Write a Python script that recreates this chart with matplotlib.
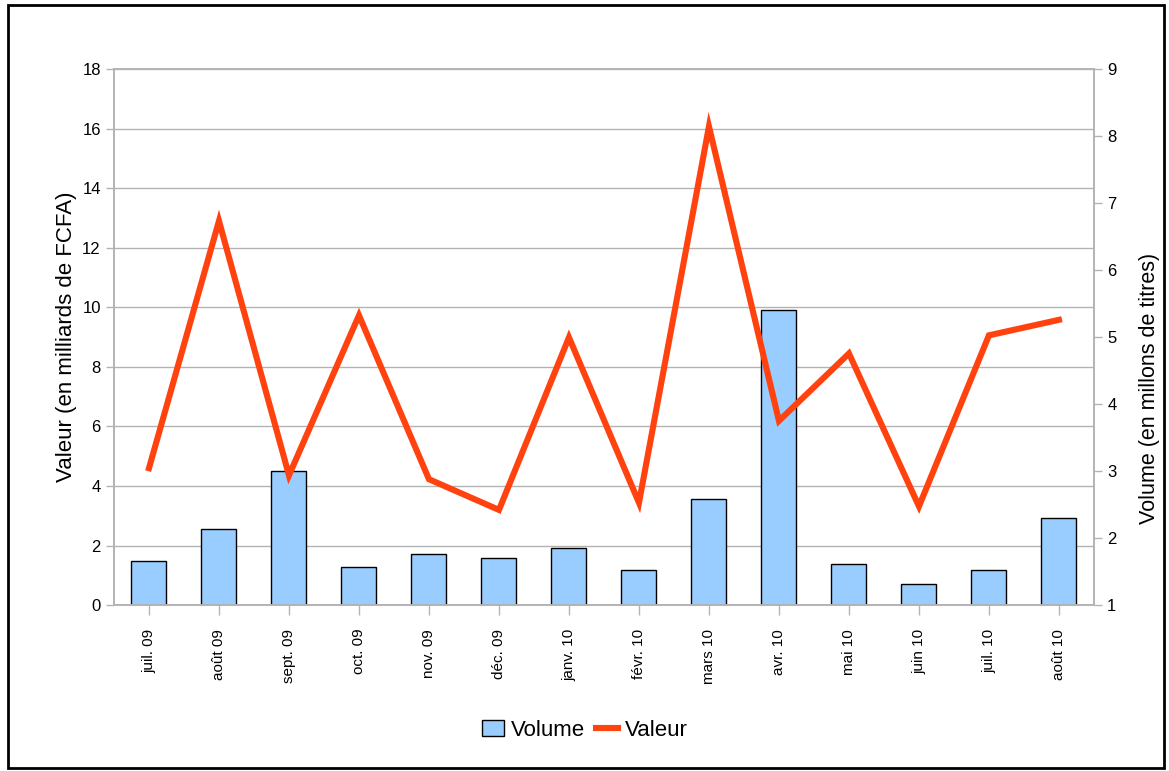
import numpy as np
import matplotlib
matplotlib.use('Agg')
import matplotlib.pyplot as plt
from matplotlib.patches import Rectangle

plt.rcParams['font.family'] = ['Liberation Sans', 'DejaVu Sans']

mois = ['juil. 09', 'août 09', 'sept. 09', 'oct. 09', 'nov. 09', 'déc. 09',
        'janv. 10', 'févr. 10', 'mars 10', 'avr. 10', 'mai 10', 'juin 10',
        'juil. 10', 'août 10']
# valeur en milliards de FCFA (axe gauche)
valeur = [4.60, 12.9, 4.36, 9.73, 4.23, 3.20, 8.99, 3.44, 16.07, 6.19,
          8.45, 3.32, 9.06, 9.58]
# volume en millions de titres (axe droit)
volume = [1.66, 2.14, 3.01, 1.57, 1.76, 1.71, 1.86, 1.52, 2.58, 5.40,
          1.62, 1.32, 1.53, 2.30]

fig = plt.figure(figsize=(11.69, 7.71), dpi=100)
ax = fig.add_axes([0.0975, 0.215, 0.8383, 0.6955])
ax2 = ax.twinx()
ax.set_zorder(2)
ax2.set_zorder(1)
ax.patch.set_visible(False)

x = np.arange(len(mois))
grey = '#b3b3b3'

# barres volume sur l'axe droit
vol = np.array(volume)
ax2.bar(x, vol - 1, bottom=1, width=0.5, color='#99ccff',
        edgecolor='black', linewidth=1.0, label='Volume', zorder=2)
ax2.set_ylim(1, 9)
ax2.set_yticks(range(1, 10))
ax2.set_ylabel('Volume (en millons de titres)', fontsize=15.5)
ax2.yaxis.set_label_coords(1.046, 0.405)

# ligne valeur sur l'axe gauche
ax.plot(x, valeur, color='#ff420e', linewidth=4.4, label='Valeur',
        solid_joinstyle='miter', zorder=3)
ax.set_ylim(0, 18)
ax.set_yticks(range(0, 19, 2))
ax.set_xlim(-0.5, len(mois) - 0.5)
ax.set_xticks(x)
ax.set_xticklabels(mois, rotation=90, fontsize=11)
ax.set_ylabel('Valeur (en milliards de FCFA)', fontsize=16)

# grille de l'axe gauche, dessinee sous les barres
lo, hi = ax.get_ylim()
lo2, hi2 = ax2.get_ylim()
for t in ax.get_yticks():
    ax2.axhline(lo2 + (t - lo) * (hi2 - lo2) / (hi - lo), color=grey,
                linewidth=1.0, zorder=0)

for a in (ax, ax2):
    for s in a.spines.values():
        s.set_color(grey)
        s.set_linewidth(1.2)
    a.tick_params(colors=grey, labelcolor='black', length=6, width=1.0,
                  labelsize=12)
ax.tick_params(axis='x', labelsize=11, length=7, pad=10)

h1, l1 = ax2.get_legend_handles_labels()
h2, l2 = ax.get_legend_handles_labels()
fig.legend(h1 + h2, l1 + l2, loc='center', bbox_to_anchor=(0.5, 0.053),
           ncol=2, frameon=False, fontsize=16, handlelength=1.0,
           handletextpad=0.3, columnspacing=0.5)

fig.patches.append(Rectangle((0.007, 0.004), 0.989, 0.989,
                             transform=fig.transFigure, fill=False,
                             edgecolor='black', linewidth=2))

fig.savefig('out.png', dpi=100)
